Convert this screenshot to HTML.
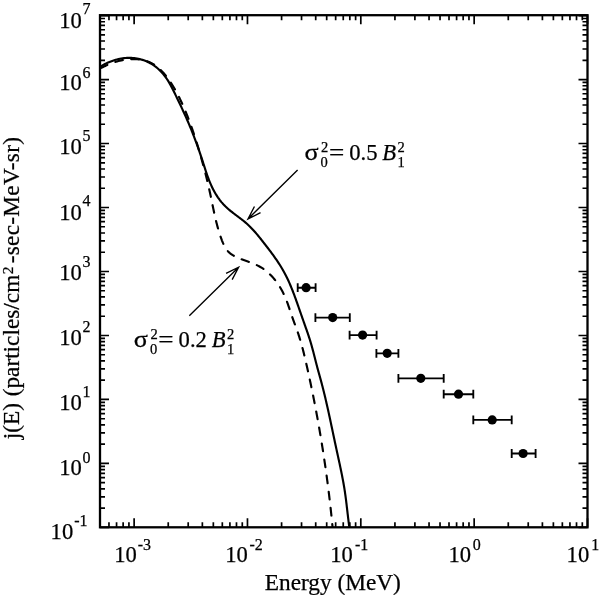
<!DOCTYPE html>
<html><head><meta charset="utf-8"><title>j(E) spectrum</title>
<style>
html,body{margin:0;padding:0;background:#fff;}
svg{display:block;}
text{font-family:"Liberation Serif",serif;fill:#000;stroke:#000;stroke-width:0.25px;}
</style></head><body>
<svg width="600" height="595" viewBox="0 0 600 595">
<rect width="600" height="595" fill="#fff"/>
<path d="M100.00,527.3 v-5 M100.00,15.2 v5 M108.97,527.3 v-5 M108.97,15.2 v5 M116.56,527.3 v-5 M116.56,15.2 v5 M123.14,527.3 v-5 M123.14,15.2 v5 M128.93,527.3 v-5 M128.93,15.2 v5 M134.12,527.3 v-9 M134.12,15.2 v9 M168.24,527.3 v-5 M168.24,15.2 v5 M188.20,527.3 v-5 M188.20,15.2 v5 M202.36,527.3 v-5 M202.36,15.2 v5 M213.34,527.3 v-5 M213.34,15.2 v5 M222.32,527.3 v-5 M222.32,15.2 v5 M229.91,527.3 v-5 M229.91,15.2 v5 M236.48,527.3 v-5 M236.48,15.2 v5 M242.28,527.3 v-5 M242.28,15.2 v5 M247.47,527.3 v-9 M247.47,15.2 v9 M281.59,527.3 v-5 M281.59,15.2 v5 M301.54,527.3 v-5 M301.54,15.2 v5 M315.71,527.3 v-5 M315.71,15.2 v5 M326.69,527.3 v-5 M326.69,15.2 v5 M335.66,527.3 v-5 M335.66,15.2 v5 M343.25,527.3 v-5 M343.25,15.2 v5 M349.83,527.3 v-5 M349.83,15.2 v5 M355.62,527.3 v-5 M355.62,15.2 v5 M360.81,527.3 v-9 M360.81,15.2 v9 M394.93,527.3 v-5 M394.93,15.2 v5 M414.89,527.3 v-5 M414.89,15.2 v5 M429.05,527.3 v-5 M429.05,15.2 v5 M440.03,527.3 v-5 M440.03,15.2 v5 M449.01,527.3 v-5 M449.01,15.2 v5 M456.60,527.3 v-5 M456.60,15.2 v5 M463.17,527.3 v-5 M463.17,15.2 v5 M468.97,527.3 v-5 M468.97,15.2 v5 M474.16,527.3 v-9 M474.16,15.2 v9 M508.28,527.3 v-5 M508.28,15.2 v5 M528.23,527.3 v-5 M528.23,15.2 v5 M542.40,527.3 v-5 M542.40,15.2 v5 M553.38,527.3 v-5 M553.38,15.2 v5 M562.35,527.3 v-5 M562.35,15.2 v5 M569.94,527.3 v-5 M569.94,15.2 v5 M576.52,527.3 v-5 M576.52,15.2 v5 M582.31,527.3 v-5 M582.31,15.2 v5 M587.50,527.3 v-9 M587.50,15.2 v9 M100.0,527.45 h9 M587.5,527.45 h-9 M100.0,508.19 h5 M587.5,508.19 h-5 M100.0,496.92 h5 M587.5,496.92 h-5 M100.0,488.93 h5 M587.5,488.93 h-5 M100.0,482.72 h5 M587.5,482.72 h-5 M100.0,477.66 h5 M587.5,477.66 h-5 M100.0,473.37 h5 M587.5,473.37 h-5 M100.0,469.66 h5 M587.5,469.66 h-5 M100.0,466.39 h5 M587.5,466.39 h-5 M100.0,463.46 h9 M587.5,463.46 h-9 M100.0,444.20 h5 M587.5,444.20 h-5 M100.0,432.93 h5 M587.5,432.93 h-5 M100.0,424.94 h5 M587.5,424.94 h-5 M100.0,418.74 h5 M587.5,418.74 h-5 M100.0,413.67 h5 M587.5,413.67 h-5 M100.0,409.39 h5 M587.5,409.39 h-5 M100.0,405.68 h5 M587.5,405.68 h-5 M100.0,402.40 h5 M587.5,402.40 h-5 M100.0,399.47 h9 M587.5,399.47 h-9 M100.0,380.21 h5 M587.5,380.21 h-5 M100.0,368.95 h5 M587.5,368.95 h-5 M100.0,360.95 h5 M587.5,360.95 h-5 M100.0,354.75 h5 M587.5,354.75 h-5 M100.0,349.68 h5 M587.5,349.68 h-5 M100.0,345.40 h5 M587.5,345.40 h-5 M100.0,341.69 h5 M587.5,341.69 h-5 M100.0,338.42 h5 M587.5,338.42 h-5 M100.0,335.49 h9 M587.5,335.49 h-9 M100.0,316.23 h5 M587.5,316.23 h-5 M100.0,304.96 h5 M587.5,304.96 h-5 M100.0,296.96 h5 M587.5,296.96 h-5 M100.0,290.76 h5 M587.5,290.76 h-5 M100.0,285.70 h5 M587.5,285.70 h-5 M100.0,281.41 h5 M587.5,281.41 h-5 M100.0,277.70 h5 M587.5,277.70 h-5 M100.0,274.43 h5 M587.5,274.43 h-5 M100.0,271.50 h9 M587.5,271.50 h-9 M100.0,252.24 h5 M587.5,252.24 h-5 M100.0,240.97 h5 M587.5,240.97 h-5 M100.0,232.98 h5 M587.5,232.98 h-5 M100.0,226.77 h5 M587.5,226.77 h-5 M100.0,221.71 h5 M587.5,221.71 h-5 M100.0,217.42 h5 M587.5,217.42 h-5 M100.0,213.71 h5 M587.5,213.71 h-5 M100.0,210.44 h5 M587.5,210.44 h-5 M100.0,207.51 h9 M587.5,207.51 h-9 M100.0,188.25 h5 M587.5,188.25 h-5 M100.0,176.98 h5 M587.5,176.98 h-5 M100.0,168.99 h5 M587.5,168.99 h-5 M100.0,162.79 h5 M587.5,162.79 h-5 M100.0,157.72 h5 M587.5,157.72 h-5 M100.0,153.44 h5 M587.5,153.44 h-5 M100.0,149.73 h5 M587.5,149.73 h-5 M100.0,146.45 h5 M587.5,146.45 h-5 M100.0,143.52 h9 M587.5,143.52 h-9 M100.0,124.26 h5 M587.5,124.26 h-5 M100.0,113.00 h5 M587.5,113.00 h-5 M100.0,105.00 h5 M587.5,105.00 h-5 M100.0,98.80 h5 M587.5,98.80 h-5 M100.0,93.73 h5 M587.5,93.73 h-5 M100.0,89.45 h5 M587.5,89.45 h-5 M100.0,85.74 h5 M587.5,85.74 h-5 M100.0,82.47 h5 M587.5,82.47 h-5 M100.0,79.54 h9 M587.5,79.54 h-9 M100.0,60.28 h5 M587.5,60.28 h-5 M100.0,49.01 h5 M587.5,49.01 h-5 M100.0,41.01 h5 M587.5,41.01 h-5 M100.0,34.81 h5 M587.5,34.81 h-5 M100.0,29.75 h5 M587.5,29.75 h-5 M100.0,25.46 h5 M587.5,25.46 h-5 M100.0,21.75 h5 M587.5,21.75 h-5 M100.0,18.48 h5 M587.5,18.48 h-5 M100.0,15.55 h9 M587.5,15.55 h-9" stroke="#000" stroke-width="1.7" fill="none"/>
<rect x="100.0" y="15.2" width="487.5" height="512.0999999999999" fill="none" stroke="#000" stroke-width="2.3"/>
<clipPath id="c"><rect x="100.0" y="15.2" width="487.5" height="512.0999999999999"/></clipPath>
<g clip-path="url(#c)" fill="none" stroke="#000" stroke-width="2.15" stroke-linejoin="round">
<path d="M100.06,66.76 L101.25,66.05 L102.46,65.35 L103.69,64.67 L104.95,64.02 L106.23,63.40 L107.53,62.80 L108.84,62.23 L110.18,61.69 L111.53,61.18 L112.89,60.70 L114.26,60.25 L115.65,59.84 L117.05,59.46 L118.46,59.12 L119.87,58.82 L121.29,58.55 L122.72,58.32 L124.15,58.14 L125.58,58.00 L127.02,57.90 L128.45,57.85 L129.88,57.84 L131.31,57.88 L132.73,57.96 L134.15,58.10 L135.57,58.28 L136.97,58.51 L138.37,58.78 L139.75,59.10 L141.12,59.46 L142.48,59.87 L143.83,60.32 L145.15,60.81 L146.46,61.35 L147.76,61.93 L149.03,62.55 L150.28,63.22 L151.51,63.92 L152.71,64.66 L153.89,65.45 L155.04,66.27 L156.17,67.14 L157.26,68.04 L158.33,68.97 L159.37,69.94 L160.38,70.95 L161.37,71.98 L162.32,73.04 L163.25,74.13 L164.16,75.25 L165.03,76.39 L165.88,77.55 L166.71,78.73 L167.51,79.93 L168.28,81.15 L169.03,82.38 L169.75,83.62 L170.46,84.88 L171.14,86.14 L171.81,87.41 L172.46,88.69 L173.11,89.97 L173.74,91.25 L174.37,92.54 L175.00,93.82 L175.62,95.10 L176.24,96.38 L176.86,97.66 L177.48,98.94 L178.09,100.21 L178.70,101.49 L179.31,102.76 L179.92,104.04 L180.52,105.32 L181.13,106.59 L181.72,107.87 L182.32,109.15 L182.91,110.43 L183.50,111.71 L184.09,112.99 L184.67,114.28 L185.25,115.56 L185.83,116.86 L186.40,118.15 L186.97,119.45 L187.54,120.75 L188.10,122.05 L188.66,123.36 L189.21,124.67 L189.77,125.99 L190.31,127.31 L190.86,128.64 L191.40,129.97 L191.93,131.30 L192.46,132.64 L192.99,133.99 L193.51,135.34 L194.03,136.69 L194.55,138.04 L195.06,139.40 L195.57,140.76 L196.07,142.12 L196.57,143.48 L197.06,144.85 L197.55,146.21 L198.04,147.58 L198.52,148.95 L199.00,150.32 L199.47,151.69 L199.94,153.06 L200.40,154.43 L200.86,155.80 L201.31,157.16 L201.76,158.53 L202.21,159.89 L202.65,161.26 L203.08,162.62 L203.52,163.98 L203.95,165.33 L204.38,166.69 L204.82,168.04 L205.25,169.39 L205.69,170.73 L206.14,172.07 L206.59,173.40 L207.05,174.73 L207.52,176.06 L208.00,177.38 L208.49,178.70 L208.99,180.01 L209.51,181.31 L210.04,182.61 L210.59,183.90 L211.15,185.18 L211.74,186.46 L212.34,187.73 L212.97,189.00 L213.62,190.25 L214.30,191.50 L214.99,192.73 L215.71,193.95 L216.46,195.16 L217.23,196.36 L218.02,197.54 L218.84,198.70 L219.68,199.85 L220.55,200.98 L221.45,202.09 L222.38,203.17 L223.33,204.24 L224.31,205.28 L225.31,206.30 L226.35,207.29 L227.41,208.26 L228.49,209.21 L229.59,210.14 L230.71,211.06 L231.84,211.96 L232.99,212.86 L234.14,213.74 L235.30,214.62 L236.47,215.49 L237.63,216.37 L238.79,217.24 L239.95,218.12 L241.10,219.00 L242.24,219.89 L243.37,220.78 L244.49,221.69 L245.59,222.61 L246.66,223.54 L247.72,224.48 L248.75,225.44 L249.76,226.42 L250.75,227.41 L251.72,228.41 L252.68,229.43 L253.63,230.45 L254.55,231.49 L255.47,232.54 L256.38,233.60 L257.28,234.67 L258.17,235.74 L259.05,236.83 L259.93,237.92 L260.81,239.02 L261.68,240.13 L262.56,241.24 L263.43,242.36 L264.31,243.48 L265.19,244.61 L266.06,245.74 L266.94,246.88 L267.82,248.02 L268.70,249.17 L269.57,250.32 L270.45,251.47 L271.31,252.63 L272.18,253.80 L273.03,254.97 L273.88,256.15 L274.73,257.33 L275.56,258.52 L276.39,259.71 L277.21,260.91 L278.01,262.11 L278.81,263.32 L279.59,264.53 L280.36,265.75 L281.12,266.98 L281.86,268.21 L282.59,269.44 L283.30,270.69 L283.99,271.94 L284.67,273.19 L285.33,274.45 L285.98,275.71 L286.61,276.98 L287.23,278.26 L287.84,279.54 L288.44,280.82 L289.02,282.11 L289.59,283.41 L290.15,284.70 L290.70,286.00 L291.24,287.31 L291.77,288.62 L292.30,289.93 L292.81,291.25 L293.32,292.57 L293.82,293.89 L294.32,295.21 L294.81,296.54 L295.30,297.87 L295.78,299.20 L296.26,300.54 L296.73,301.88 L297.21,303.22 L297.68,304.56 L298.15,305.90 L298.62,307.24 L299.08,308.59 L299.55,309.93 L300.03,311.28 L300.50,312.63 L300.97,313.98 L301.44,315.33 L301.92,316.68 L302.39,318.03 L302.87,319.38 L303.34,320.73 L303.82,322.09 L304.29,323.44 L304.77,324.80 L305.25,326.16 L305.73,327.52 L306.20,328.87 L306.68,330.23 L307.16,331.59 L307.63,332.95 L308.09,334.32 L308.55,335.68 L309.00,337.04 L309.45,338.41 L309.88,339.77 L310.30,341.14 L310.71,342.50 L311.11,343.87 L311.51,345.24 L311.89,346.61 L312.26,347.98 L312.63,349.35 L313.00,350.72 L313.36,352.09 L313.71,353.46 L314.06,354.83 L314.41,356.20 L314.76,357.58 L315.11,358.95 L315.46,360.33 L315.81,361.70 L316.16,363.08 L316.52,364.45 L316.88,365.83 L317.24,367.21 L317.62,368.59 L317.99,369.96 L318.37,371.34 L318.76,372.72 L319.14,374.10 L319.53,375.48 L319.91,376.86 L320.29,378.24 L320.67,379.62 L321.04,381.00 L321.41,382.39 L321.78,383.77 L322.14,385.15 L322.50,386.53 L322.85,387.92 L323.20,389.30 L323.55,390.68 L323.89,392.07 L324.23,393.45 L324.57,394.84 L324.90,396.22 L325.23,397.61 L325.56,399.00 L325.88,400.38 L326.21,401.77 L326.52,403.16 L326.84,404.55 L327.16,405.93 L327.47,407.32 L327.78,408.71 L328.09,410.10 L328.40,411.49 L328.70,412.88 L329.00,414.27 L329.31,415.66 L329.61,417.05 L329.91,418.44 L330.20,419.83 L330.50,421.23 L330.80,422.62 L331.09,424.01 L331.39,425.40 L331.68,426.80 L331.98,428.19 L332.27,429.58 L332.56,430.98 L332.86,432.37 L333.15,433.77 L333.45,435.16 L333.74,436.56 L334.03,437.96 L334.33,439.35 L334.62,440.75 L334.92,442.15 L335.22,443.54 L335.52,444.94 L335.82,446.34 L336.12,447.74 L336.42,449.14 L336.72,450.54 L337.02,451.94 L337.33,453.34 L337.64,454.74 L337.94,456.14 L338.25,457.54 L338.55,458.94 L338.86,460.34 L339.16,461.74 L339.47,463.14 L339.77,464.55 L340.07,465.95 L340.36,467.35 L340.66,468.76 L340.95,470.16 L341.24,471.56 L341.53,472.97 L341.81,474.37 L342.09,475.78 L342.36,477.18 L342.63,478.59 L342.90,480.00 L343.16,481.40 L343.41,482.81 L343.66,484.21 L343.90,485.62 L344.14,487.03 L344.37,488.44 L344.59,489.85 L344.81,491.25 L345.02,492.66 L345.22,494.07 L345.42,495.48 L345.61,496.89 L345.80,498.30 L345.98,499.71 L346.16,501.12 L346.33,502.53 L346.50,503.94 L346.67,505.36 L346.83,506.77 L347.00,508.18 L347.16,509.59 L347.33,511.00 L347.49,512.42 L347.65,513.83 L347.82,515.24 L347.98,516.66 L348.15,518.07 L348.32,519.49 L348.49,520.90 L348.67,522.32 L348.85,523.73 L349.03,525.15 L349.22,526.56"/>
<path d="M100.00,68.43 L101.30,67.79 L102.60,67.16 L103.90,66.54 L105.19,65.94 L106.49,65.35 L107.79,64.79 L109.10,64.24 L110.41,63.71 L111.72,63.20 L113.04,62.72 L114.38,62.26 L115.72,61.83 L117.07,61.42 L118.44,61.04 L119.82,60.69 L121.22,60.38 L122.64,60.09 L124.07,59.83 L125.51,59.61 L126.96,59.43 L128.43,59.28 L129.90,59.17 L131.37,59.10 L132.84,59.07 L134.32,59.08 L135.78,59.13 L137.25,59.23 L138.70,59.38 L140.14,59.57 L141.57,59.80 L142.98,60.09 L144.37,60.43 L145.74,60.82 L147.08,61.26 L148.40,61.76 L149.70,62.31 L150.96,62.91 L152.19,63.57 L153.39,64.28 L154.57,65.03 L155.72,65.83 L156.85,66.67 L157.94,67.55 L159.02,68.47 L160.06,69.43 L161.09,70.41 L162.09,71.43 L163.07,72.48 L164.02,73.55 L164.96,74.65 L165.87,75.76 L166.76,76.90 L167.64,78.05 L168.49,79.22 L169.33,80.40 L170.15,81.59 L170.95,82.79 L171.73,84.00 L172.50,85.22 L173.25,86.45 L173.99,87.68 L174.71,88.93 L175.42,90.18 L176.11,91.44 L176.80,92.70 L177.47,93.98 L178.13,95.26 L178.78,96.54 L179.41,97.83 L180.04,99.12 L180.66,100.42 L181.28,101.72 L181.88,103.02 L182.47,104.33 L183.06,105.64 L183.64,106.95 L184.21,108.27 L184.78,109.59 L185.33,110.91 L185.88,112.23 L186.43,113.56 L186.96,114.89 L187.49,116.22 L188.01,117.56 L188.53,118.90 L189.04,120.24 L189.54,121.58 L190.04,122.93 L190.53,124.27 L191.01,125.62 L191.49,126.97 L191.97,128.32 L192.44,129.68 L192.90,131.03 L193.36,132.39 L193.82,133.75 L194.27,135.11 L194.71,136.47 L195.16,137.83 L195.59,139.20 L196.03,140.56 L196.46,141.93 L196.88,143.29 L197.31,144.66 L197.73,146.03 L198.14,147.40 L198.56,148.77 L198.97,150.14 L199.37,151.51 L199.78,152.88 L200.18,154.25 L200.58,155.62 L200.97,156.99 L201.36,158.37 L201.75,159.74 L202.14,161.12 L202.52,162.49 L202.90,163.87 L203.27,165.25 L203.65,166.63 L204.02,168.01 L204.38,169.39 L204.74,170.77 L205.10,172.16 L205.46,173.54 L205.81,174.93 L206.16,176.32 L206.50,177.70 L206.84,179.09 L207.18,180.49 L207.52,181.88 L207.85,183.27 L208.17,184.67 L208.50,186.07 L208.82,187.47 L209.13,188.87 L209.44,190.27 L209.75,191.68 L210.06,193.08 L210.36,194.49 L210.66,195.90 L210.95,197.31 L211.25,198.72 L211.54,200.14 L211.83,201.55 L212.12,202.97 L212.41,204.38 L212.70,205.80 L213.00,207.21 L213.29,208.62 L213.59,210.04 L213.89,211.45 L214.19,212.86 L214.50,214.27 L214.82,215.68 L215.14,217.09 L215.46,218.50 L215.79,219.90 L216.13,221.30 L216.48,222.70 L216.84,224.09 L217.20,225.49 L217.58,226.87 L217.96,228.26 L218.36,229.64 L218.76,231.02 L219.18,232.39 L219.61,233.76 L220.06,235.13 L220.52,236.49 L220.99,237.84 L221.48,239.19 L221.98,240.54 L222.51,241.87 L223.06,243.18 L223.64,244.47 L224.26,245.73 L224.93,246.96 L225.64,248.15 L226.41,249.29 L227.23,250.38 L228.12,251.42 L229.08,252.39 L230.11,253.29 L231.20,254.14 L232.36,254.93 L233.57,255.66 L234.83,256.35 L236.13,257.00 L237.46,257.61 L238.82,258.19 L240.19,258.75 L241.59,259.28 L242.99,259.79 L244.39,260.30 L245.78,260.80 L247.17,261.29 L248.55,261.79 L249.91,262.29 L251.27,262.80 L252.61,263.33 L253.94,263.87 L255.25,264.43 L256.54,265.02 L257.81,265.63 L259.07,266.28 L260.30,266.96 L261.51,267.68 L262.70,268.44 L263.86,269.24 L265.00,270.07 L266.12,270.94 L267.21,271.85 L268.28,272.78 L269.32,273.75 L270.35,274.74 L271.35,275.77 L272.32,276.82 L273.28,277.90 L274.21,279.00 L275.11,280.13 L275.99,281.27 L276.85,282.44 L277.69,283.63 L278.50,284.83 L279.29,286.06 L280.06,287.29 L280.80,288.55 L281.52,289.81 L282.21,291.09 L282.88,292.37 L283.53,293.67 L284.15,294.97 L284.75,296.28 L285.33,297.59 L285.88,298.91 L286.41,300.23 L286.92,301.55 L287.42,302.88 L287.89,304.21 L288.36,305.54 L288.81,306.87 L289.26,308.20 L289.70,309.54 L290.15,310.88 L290.59,312.22 L291.04,313.56 L291.49,314.91 L291.95,316.26 L292.43,317.61 L292.91,318.96 L293.41,320.31 L293.90,321.67 L294.40,323.02 L294.91,324.38 L295.41,325.74 L295.91,327.11 L296.41,328.47 L296.90,329.83 L297.38,331.20 L297.86,332.57 L298.32,333.94 L298.77,335.31 L299.21,336.69 L299.64,338.06 L300.06,339.44 L300.47,340.81 L300.88,342.19 L301.27,343.57 L301.66,344.95 L302.04,346.33 L302.41,347.72 L302.77,349.10 L303.13,350.49 L303.48,351.87 L303.83,353.26 L304.17,354.65 L304.51,356.04 L304.84,357.43 L305.17,358.82 L305.49,360.21 L305.82,361.60 L306.13,362.99 L306.45,364.39 L306.77,365.78 L307.08,367.17 L307.39,368.57 L307.70,369.96 L308.01,371.36 L308.32,372.76 L308.62,374.15 L308.93,375.55 L309.23,376.95 L309.53,378.35 L309.83,379.75 L310.13,381.15 L310.42,382.55 L310.72,383.95 L311.01,385.35 L311.30,386.75 L311.60,388.15 L311.88,389.55 L312.17,390.95 L312.46,392.36 L312.74,393.76 L313.03,395.17 L313.31,396.57 L313.59,397.97 L313.87,399.38 L314.14,400.79 L314.42,402.19 L314.69,403.60 L314.97,405.00 L315.24,406.41 L315.51,407.82 L315.77,409.23 L316.04,410.64 L316.31,412.05 L316.57,413.45 L316.83,414.86 L317.09,416.27 L317.35,417.68 L317.61,419.10 L317.86,420.51 L318.12,421.92 L318.37,423.33 L318.62,424.74 L318.87,426.15 L319.12,427.57 L319.37,428.98 L319.61,430.39 L319.85,431.81 L320.10,433.22 L320.34,434.63 L320.57,436.05 L320.81,437.46 L321.05,438.88 L321.28,440.29 L321.51,441.71 L321.74,443.13 L321.97,444.54 L322.20,445.96 L322.43,447.38 L322.65,448.79 L322.88,450.21 L323.10,451.63 L323.32,453.05 L323.53,454.46 L323.75,455.88 L323.97,457.30 L324.18,458.72 L324.39,460.14 L324.60,461.56 L324.81,462.98 L325.02,464.40 L325.22,465.82 L325.43,467.23 L325.63,468.65 L325.83,470.08 L326.03,471.50 L326.23,472.92 L326.42,474.34 L326.62,475.76 L326.81,477.18 L327.00,478.60 L327.19,480.02 L327.38,481.44 L327.57,482.86 L327.75,484.29 L327.94,485.71 L328.12,487.13 L328.30,488.55 L328.48,489.97 L328.65,491.40 L328.83,492.82 L329.00,494.24 L329.17,495.66 L329.34,497.09 L329.51,498.51 L329.68,499.93 L329.84,501.36 L330.01,502.78 L330.17,504.20 L330.33,505.62 L330.49,507.05 L330.65,508.47 L330.80,509.89 L330.96,511.32 L331.11,512.74 L331.26,514.16 L331.41,515.59 L331.56,517.01 L331.70,518.43 L331.85,519.86 L331.99,521.28 L332.13,522.70 L332.27,524.13 L332.41,525.55 L332.54,526.97" stroke-dasharray="7.7 8.545" stroke-dashoffset="-0.4" stroke-linecap="round"/>
</g>
<path d="M297.7,287.7 H315.6 M297.7,283.3 v8.8 M315.6,283.3 v8.8" stroke="#000" stroke-width="1.85" fill="none"/>
<circle cx="306.1" cy="287.7" r="4.6"/>
<path d="M315.4,317.6 H349.8 M315.4,313.20000000000005 v8.8 M349.8,313.20000000000005 v8.8" stroke="#000" stroke-width="1.85" fill="none"/>
<circle cx="332.7" cy="317.6" r="4.6"/>
<path d="M349.6,335.1 H376.6 M349.6,330.70000000000005 v8.8 M376.6,330.70000000000005 v8.8" stroke="#000" stroke-width="1.85" fill="none"/>
<circle cx="362.6" cy="335.1" r="4.6"/>
<path d="M376.4,353.3 H398.4 M376.4,348.90000000000003 v8.8 M398.4,348.90000000000003 v8.8" stroke="#000" stroke-width="1.85" fill="none"/>
<circle cx="387.2" cy="353.3" r="4.6"/>
<path d="M398.4,378.3 H443.7 M398.4,373.90000000000003 v8.8 M443.7,373.90000000000003 v8.8" stroke="#000" stroke-width="1.85" fill="none"/>
<circle cx="420.8" cy="378.3" r="4.6"/>
<path d="M443.7,394.2 H473.3 M443.7,389.8 v8.8 M473.3,389.8 v8.8" stroke="#000" stroke-width="1.85" fill="none"/>
<circle cx="458.5" cy="394.2" r="4.6"/>
<path d="M473.3,419.9 H511.7 M473.3,415.5 v8.8 M511.7,415.5 v8.8" stroke="#000" stroke-width="1.85" fill="none"/>
<circle cx="492.2" cy="419.9" r="4.6"/>
<path d="M511.7,453.5 H535.6 M511.7,449.1 v8.8 M535.6,449.1 v8.8" stroke="#000" stroke-width="1.85" fill="none"/>
<circle cx="523.1" cy="453.5" r="4.6"/>
<path d="M297.6,170.1 L248.0,218.9 M254.46,206.48 L248.0,218.9 L260.53,212.65" stroke="#000" stroke-width="1.35" fill="none" stroke-linejoin="miter"/>
<path d="M189.3,315.8 L238.6,267.2 M232.16,279.63 L238.6,267.2 L226.08,273.47" stroke="#000" stroke-width="1.35" fill="none" stroke-linejoin="miter"/>
<text x="50.6" y="539.45" font-size="22.6">10<tspan font-size="16" dy="-13.2" dx="1.1">-1</tspan></text>
<text x="59.2" y="475.46" font-size="22.6">10<tspan font-size="16" dy="-12.7" dx="0.6">0</tspan></text>
<text x="59.2" y="410.27" font-size="22.6">10<tspan font-size="16" dy="-13.4" dx="0.6">1</tspan></text>
<text x="59.2" y="345.29" font-size="22.6">10<tspan font-size="16" dy="-13.4" dx="0.6">2</tspan></text>
<text x="59.2" y="279.50" font-size="22.6">10<tspan font-size="16" dy="-12.3" dx="0.6">3</tspan></text>
<text x="59.2" y="219.51" font-size="22.6">10<tspan font-size="16" dy="-13.5" dx="0.6">4</tspan></text>
<text x="59.2" y="153.52" font-size="22.6">10<tspan font-size="16" dy="-13" dx="0.6">5</tspan></text>
<text x="59.2" y="90.04" font-size="22.6">10<tspan font-size="16" dy="-12.2" dx="0.6">6</tspan></text>
<text x="59.2" y="27.55" font-size="22.6">10<tspan font-size="16" dy="-13.4" dx="0.6">7</tspan></text>
<text x="114.2" y="562.3" font-size="22.6">10<tspan font-size="16" x="137.7" dy="-12.3">-3</tspan></text>
<text x="225.2" y="562.3" font-size="22.6">10<tspan font-size="16" x="249.4" dy="-12.3">-2</tspan></text>
<text x="330.3" y="562.3" font-size="22.6">10<tspan font-size="16" x="355.0" dy="-12.3">-1</tspan></text>
<text x="448.5" y="562.3" font-size="22.6">10<tspan font-size="16" x="472.8" dy="-12.3">0</tspan></text>
<text x="566.6" y="562.3" font-size="22.6">10<tspan font-size="16" x="591.2" dy="-12.3">1</tspan></text>
<text id="xl" x="264.8" y="590" font-size="23.3">Energy (MeV)</text>
<text id="yl" transform="translate(19.3,439.3) rotate(-90)" font-size="23.3" word-spacing="0.9">j(E) (particles/cm<tspan font-size="15.4" dy="-6.5" dx="0.5">2</tspan><tspan dy="6.5" dx="3.3" letter-spacing="0.26">-sec-MeV-sr)</tspan></text>
<g id="l1" transform="translate(305.0,159.5)" font-size="22.6"><text transform="translate(-0.6,0) scale(1.16,1)" stroke="#000" stroke-width="0.2">σ</text><text x="16.0" y="-7.7" font-size="14.5">2</text><text x="15.6" y="7" font-size="14.5">0</text><text transform="translate(23.9,0) scale(1.2,1)" stroke="#000" stroke-width="0.15">=</text><text x="44.2" y="0">0.5</text><text x="77.3" y="0" font-style="italic">B</text><text x="92.6" y="-7.2" font-size="14.5">2</text><text x="92.6" y="7" font-size="14.5">1</text></g>
<g id="l2" transform="translate(134.4,346.5)" font-size="22.6"><text transform="translate(-0.6,0) scale(1.16,1)" stroke="#000" stroke-width="0.2">σ</text><text x="16.0" y="-7.7" font-size="14.5">2</text><text x="15.6" y="7" font-size="14.5">0</text><text transform="translate(23.9,0) scale(1.2,1)" stroke="#000" stroke-width="0.15">=</text><text x="44.2" y="0">0.2</text><text x="77.3" y="0" font-style="italic">B</text><text x="92.6" y="-7.2" font-size="14.5">2</text><text x="92.6" y="7" font-size="14.5">1</text></g>
</svg></body></html>
